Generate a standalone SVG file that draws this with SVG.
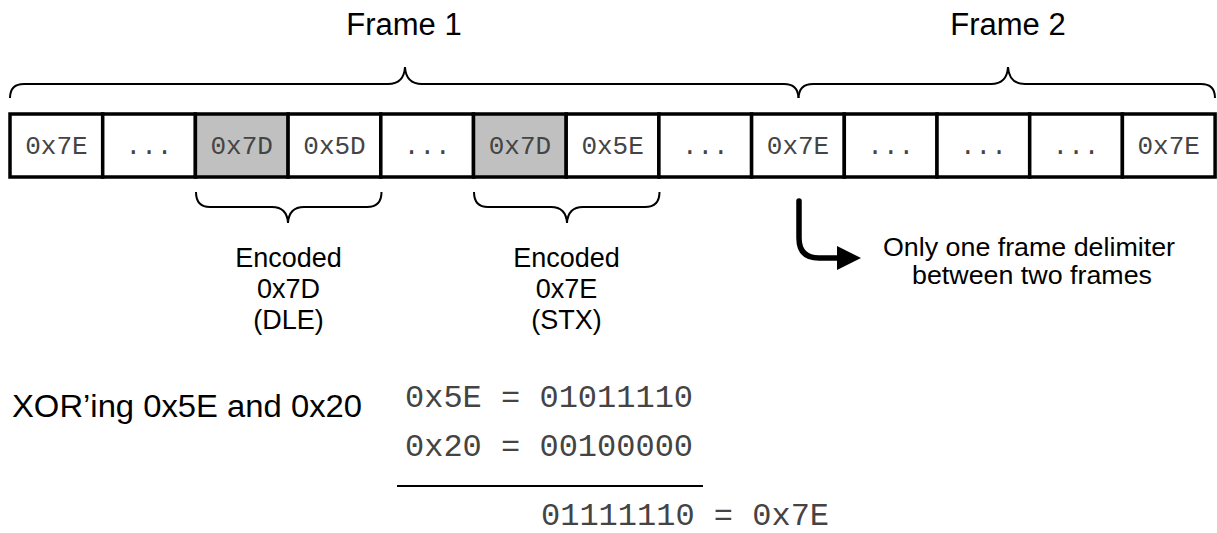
<svg xmlns="http://www.w3.org/2000/svg" width="1217" height="533" viewBox="0 0 1217 533">
<style>
.cell{fill:#fff;stroke:#000;stroke-width:3.5}
.hl{fill:#c0c0c0}
.ct{font-family:"Liberation Mono","Courier New",monospace;font-size:26px;fill:#444;text-anchor:middle}
.mono{font-family:"Liberation Mono","Courier New",monospace;font-size:32px;fill:#444}
.sans{font-family:"Liberation Sans",Arial,sans-serif;fill:#000}
.brace{fill:none;stroke:#000;stroke-width:2}
</style>
<rect width="1217" height="533" fill="#fff"/>
<g id="frame1-label"><text class="sans" x="404" y="35" font-size="31" text-anchor="middle">Frame 1</text></g>
<g id="frame2-label"><text class="sans" x="1008" y="35" font-size="31" text-anchor="middle">Frame 2</text></g>
<g id="brace-frame1"><path class="brace" d="M10 98 Q10 84 24 84 L388 84 Q404 84 405 67 Q406 84 422 84 L784 84 Q798 84 798.5 98"/></g>
<g id="brace-frame2"><path class="brace" d="M798.5 98 Q799 84 813 84 L991 84 Q1007 84 1008 67 Q1009 84 1025 84 L1201 84 Q1215 84 1215 98"/></g>
<g id="cells">
<g id="c1"><rect class="cell" x="10" y="114" width="92.7" height="63"/><text class="ct" x="56.4" y="154">0x7E</text></g>
<g id="c2"><rect class="cell" x="102.7" y="114" width="92.7" height="63"/><text class="ct" x="149" y="154">...</text></g>
<g id="c3"><rect class="cell hl" x="195.4" y="114" width="92.7" height="63"/><text class="ct" x="241.7" y="154">0x7D</text></g>
<g id="c4"><rect class="cell" x="288.1" y="114" width="92.7" height="63"/><text class="ct" x="334.5" y="154">0x5D</text></g>
<g id="c5"><rect class="cell" x="380.8" y="114" width="92.7" height="63"/><text class="ct" x="427.2" y="154">...</text></g>
<g id="c6"><rect class="cell hl" x="473.5" y="114" width="92.7" height="63"/><text class="ct" x="519.9" y="154">0x7D</text></g>
<g id="c7"><rect class="cell" x="566.2" y="114" width="92.7" height="63"/><text class="ct" x="612.6" y="154">0x5E</text></g>
<g id="c8"><rect class="cell" x="658.9" y="114" width="92.7" height="63"/><text class="ct" x="705.3" y="154">...</text></g>
<g id="c9"><rect class="cell" x="751.6" y="114" width="92.7" height="63"/><text class="ct" x="798" y="154">0x7E</text></g>
<g id="c10"><rect class="cell" x="844.3" y="114" width="92.7" height="63"/><text class="ct" x="890.7" y="154">...</text></g>
<g id="c11"><rect class="cell" x="937" y="114" width="92.7" height="63"/><text class="ct" x="983.4" y="154">...</text></g>
<g id="c12"><rect class="cell" x="1029.7" y="114" width="92.7" height="63"/><text class="ct" x="1076" y="154">...</text></g>
<g id="c13"><rect class="cell" x="1122.4" y="114" width="92.7" height="63"/><text class="ct" x="1168.7" y="154">0x7E</text></g>
</g>
<g id="brace-dle"><path class="brace" d="M196 192 Q196 207 210 207 L272 207 Q287 207 288 223 Q289 207 304 207 L367 207 Q381.5 207 381.5 192"/></g>
<g id="brace-stx"><path class="brace" d="M474 192 Q474 207 488 207 L551 207 Q566 207 567 223 Q568 207 583 207 L645 207 Q659.5 207 659.5 192"/></g>
<g id="label-dle" class="sans" font-size="27" text-anchor="middle">
<text x="288.5" y="267">Encoded</text><text x="288.5" y="298">0x7D</text><text x="288.5" y="329">(DLE)</text>
</g>
<g id="label-stx" class="sans" font-size="27" text-anchor="middle">
<text x="566.5" y="267">Encoded</text><text x="566.5" y="298">0x7E</text><text x="566.5" y="329">(STX)</text>
</g>
<g id="connectors">
<path d="M799 201 L799 238 Q799 258 819 258 L842 258" fill="none" stroke="#000" stroke-width="5.5" stroke-linecap="round"/>
<polygon points="837,246 861,258 837,270" fill="#000"/>
</g>
<g id="label-delim" class="sans" font-size="26" text-anchor="middle">
<text x="1029" y="256" textLength="292" lengthAdjust="spacingAndGlyphs">Only one frame delimiter</text><text x="1032" y="284" textLength="240" lengthAdjust="spacingAndGlyphs">between two frames</text>
</g>
<g id="xor">
<text class="sans" x="12" y="417" font-size="31" textLength="350" lengthAdjust="spacingAndGlyphs">XOR’ing 0x5E and 0x20</text>
<text class="mono" x="405" y="407">0x5E = 01011110</text>
<text class="mono" x="405" y="456">0x20 = 00100000</text>
<line x1="397" y1="486" x2="703" y2="486" stroke="#000" stroke-width="2"/>
<text class="mono" x="541" y="525">01111110 = 0x7E</text>
</g>
</svg>
